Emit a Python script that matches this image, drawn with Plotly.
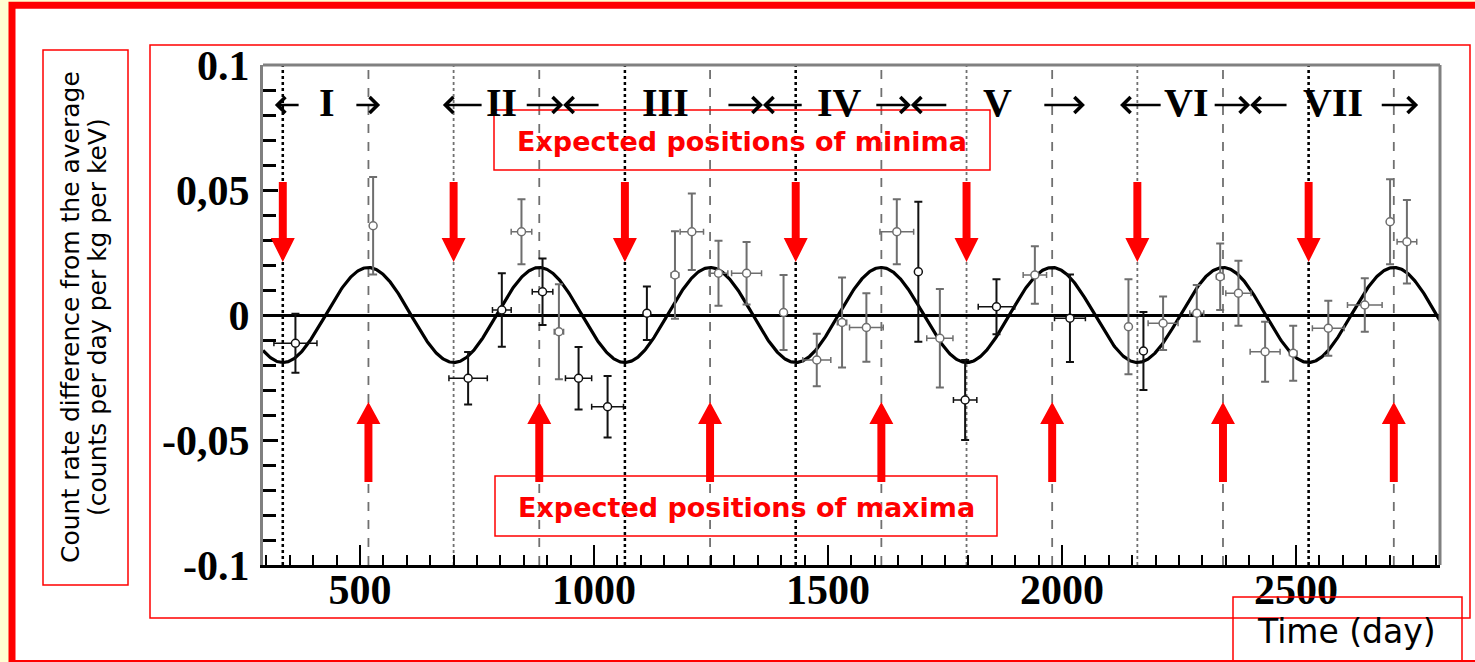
import numpy as np
import plotly.graph_objects as go

# Residual count rate per time bin (day, cpd/kg/keV), grouped by error-bar shade
BLACK_DAYS = [362, 731, 803, 890, 967, 1029, 1113, 1693, 1793, 1860, 2017, 2174]
BLACK_RATE = [-0.0113, -0.0253, 0.0020, 0.0093, -0.0253, -0.0367, 0.0007, 0.0173,
              -0.0340, 0.0033, -0.0013, -0.0144]
BLACK_ERR = [0.0118, 0.0105, 0.0147, 0.0133, 0.0125, 0.0123, 0.0107, 0.0280,
             0.0160, 0.0110, 0.0175, 0.0156]
BLACK_XERR = [46, 41, 20, 22, 28, 34, 5, 5, 25, 39, 33, 5]

GRAY_DAYS = [528, 845, 925, 1173, 1209, 1266, 1326, 1405, 1476, 1530, 1582, 1647, 1739,
             1942, 2142, 2216, 2288, 2338, 2377, 2434, 2494, 2569, 2647, 2701, 2737]
GRAY_RATE = [0.0357, 0.0333, -0.0067, 0.0160, 0.0333, 0.0167, 0.0167, 0.0010, -0.0180,
             -0.0030, -0.0050, 0.0333, -0.0093, 0.0160, -0.0047, -0.0033, 0.0007, 0.0153,
             0.0087, -0.0147, -0.0153, -0.0053, 0.0040, 0.0373, 0.0293]
GRAY_ERR = [0.0195, 0.0130, 0.0190, 0.0175, 0.0153, 0.0130, 0.0125, 0.0150, 0.0105,
            0.0180, 0.0137, 0.0130, 0.0197, 0.0115, 0.0190, 0.0107, 0.0113, 0.0133,
            0.0130, 0.0120, 0.0110, 0.0110, 0.0107, 0.0170, 0.0167]
GRAY_XERR = [5, 22, 10, 8, 25, 20, 32, 5, 30, 10, 36, 36, 28, 25, 5, 32, 15, 8, 27, 32,
             8, 34, 37, 5, 21]

# Annual modulation model: A cos(2*pi/T (t - t0))
AMPLITUDE = 0.019
PERIOD = 365.25
PHASE = 152.5

# Expected extrema of the modulation (day)
MAXIMA_DAYS = [518, 883, 1248, 1614, 1979, 2344, 2709]
MINIMA_DAYS = [335, 700, 1066, 1431, 1796, 2161, 2527]
CYCLE_EDGE_DAYS = [335, 1066, 1431, 2527]

# Annual cycles: numeral positions and the span arrows (tail day, head day)
CYCLE_NAMES = ["I", "II", "III", "IV", "V", "VI", "VII"]
CYCLE_NAME_DAYS = [429, 803, 1152, 1524, 1863, 2265, 2579]
CYCLE_ARROWS = [(372, 318), (489, 543),
                (763, 677), (853, 934), (1013, 934),
                (1284, 1361), (1447, 1361),
                (1600, 1677), (1756, 1677),
                (1959, 2049),
                (2214, 2124), (2323, 2402), (2483, 2402),
                (2680, 2761)]
CYCLE_ROW = 0.0852

X_TICKS = [500, 1000, 1500, 2000, 2500]
X_TICK_TEXT = ["500", "1000", "1500", "2000", "2500"]
Y_TICKS = [-0.1, -0.05, 0, 0.05, 0.1]
Y_TICK_TEXT = ["-0.1", "-0,05", "0", "0,05", "0.1"]

X_RANGE = [292.7, 2807.7]
Y_RANGE = [-0.1, 0.1]

W, H = 1475, 662
ML, MR, MT, MB = 263, 35, 65, 97
PW, PH = W - ML - MR, H - MT - MB


def px(x):
    return (x - ML) / PW


def py(y):
    return (H - MB - y) / PH


RED = "#FF0000"
SERIF = "Liberation Serif, Times New Roman, serif"
SANS = "DejaVu Sans, Verdana, sans-serif"

fig = go.Figure()

# modulation curve
t = np.linspace(X_RANGE[0], X_RANGE[1], 1500)
fig.add_trace(go.Scatter(
    x=t, y=AMPLITUDE * np.cos(2 * np.pi / PERIOD * (t - PHASE)),
    mode="lines", line=dict(color="black", width=3.2), hoverinfo="skip"))

for days, rate, err, xerr, col in [
        (GRAY_DAYS, GRAY_RATE, GRAY_ERR, GRAY_XERR, "#6e6e6e"),
        (BLACK_DAYS, BLACK_RATE, BLACK_ERR, BLACK_XERR, "#111111")]:
    fig.add_trace(go.Scatter(
        x=days, y=rate, mode="markers",
        marker=dict(symbol="circle", size=8, color="white",
                    line=dict(color=col, width=1.5)),
        error_y=dict(type="data", array=err, color=col, thickness=2, width=4),
        error_x=dict(type="data", array=xerr, color=col, thickness=1.5, width=3)))

shapes = []

# vertical markers at expected extrema
for d in MAXIMA_DAYS:
    shapes.append(dict(type="line", xref="x", yref="paper", x0=d, x1=d, y0=0, y1=1,
                       line=dict(color="#707070", width=1.8, dash="dash"), layer="below"))
for d in MINIMA_DAYS:
    shapes.append(dict(type="line", xref="x", yref="paper", x0=d, x1=d, y0=0, y1=1,
                       line=dict(color="#707070", width=1.8, dash="dot"), layer="below"))
for d in CYCLE_EDGE_DAYS:
    shapes.append(dict(type="line", xref="x", yref="paper", x0=d, x1=d, y0=0, y1=1,
                       line=dict(color="black", width=2.5, dash="dot"), layer="below"))

# red arrows: down at minima, up at maxima
SHAFT = 8.5
HEAD = 25.6
for d in MINIMA_DAYS:
    top, base, tip = 0.0532, 0.0308, 0.0212
    shapes.append(dict(type="path", xref="x", yref="y",
                       path=(f"M {d-SHAFT},{top} L {d+SHAFT},{top} L {d+SHAFT},{base} "
                             f"L {d+HEAD},{base} L {d},{tip} L {d-HEAD},{base} "
                             f"L {d-SHAFT},{base} Z"),
                       fillcolor=RED, line=dict(width=0)))
for d in MAXIMA_DAYS:
    bot, base, tip = -0.0668, -0.0436, -0.0348
    shapes.append(dict(type="path", xref="x", yref="y",
                       path=(f"M {d-SHAFT},{bot} L {d+SHAFT},{bot} L {d+SHAFT},{base} "
                             f"L {d+HEAD},{base} L {d},{tip} L {d-HEAD},{base} "
                             f"L {d-SHAFT},{base} Z"),
                       fillcolor=RED, line=dict(width=0)))

# grey frame on top and right
shapes.append(dict(type="line", xref="paper", yref="paper", x0=0, x1=1, y0=1, y1=1,
                   line=dict(color="#808080", width=3)))
shapes.append(dict(type="line", xref="paper", yref="paper", x0=1, x1=1, y0=0, y1=1,
                   line=dict(color="#808080", width=3)))

# slide decoration: yellow strip, thick red border, thin red boxes
shapes.append(dict(type="rect", xref="paper", yref="paper", x0=px(-5), x1=px(9),
                   y0=py(670), y1=py(-5), fillcolor="#FFFFD2", line=dict(width=0)))
shapes.append(dict(type="rect", xref="paper", yref="paper", x0=px(-5), x1=px(1480),
                   y0=py(2), y1=py(-5), fillcolor="#FFFFD2", line=dict(width=0)))
shapes.append(dict(type="rect", xref="paper", yref="paper", x0=px(12), x1=px(1490),
                   y0=py(663.5), y1=py(5.3), line=dict(color=RED, width=7)))
for (x0, y0, x1, y1) in [(43, 50, 128, 585), (150, 45, 1470, 618),
                         (494, 110, 990, 170), (495, 476, 997, 536),
                         (1233, 597, 1462, 666)]:
    shapes.append(dict(type="rect", xref="paper", yref="paper",
                       x0=px(x0), x1=px(x1), y0=py(y1), y1=py(y0),
                       line=dict(color=RED, width=1.5)))

annotations = []
for name, d in zip(CYCLE_NAMES, CYCLE_NAME_DAYS):
    annotations.append(dict(x=d, y=CYCLE_ROW, xref="x", yref="y", text=name,
                            showarrow=False, xanchor="center", yanchor="middle",
                            font=dict(family=SERIF, size=40, color="black", weight="bold")))
for tail, head in CYCLE_ARROWS:
    annotations.append(dict(x=head, y=CYCLE_ROW - 0.0012, ax=tail, ay=CYCLE_ROW - 0.0012,
                            xref="x", yref="y", axref="x", ayref="y", text="",
                            showarrow=True, arrowhead=4, arrowsize=1.2, arrowwidth=2.6,
                            arrowcolor="black", standoff=0, startstandoff=0))


def label(xp, yp, text, font, angle=0):
    annotations.append(dict(x=px(xp), y=py(yp), xref="paper", yref="paper", text=text,
                            showarrow=False, xanchor="center", yanchor="middle",
                            textangle=angle, font=font))


label(742, 141, "Expected positions of minima",
      dict(family=SANS, size=27, color=RED, weight="bold"))
label(746, 507, "Expected positions of maxima",
      dict(family=SANS, size=27, color=RED, weight="bold"))
label(1346, 631, "Time (day)", dict(family=SANS, size=33, color="black"))
label(70, 317, "Count rate difference from the average",
      dict(family=SANS, size=25, color="black"), -90)
label(97, 317, "(counts per day per kg per keV)",
      dict(family=SANS, size=25, color="black"), -90)

fig.update_layout(
    width=W, height=H,
    margin=dict(l=ML, r=MR, t=MT, b=MB),
    paper_bgcolor="white", plot_bgcolor="white",
    showlegend=False,
    shapes=shapes, annotations=annotations,
    xaxis=dict(range=X_RANGE, showgrid=False, zeroline=False,
               showline=True, linecolor="black", linewidth=3,
               tickmode="array", tickvals=X_TICKS, ticktext=X_TICK_TEXT,
               ticks="inside", ticklen=20, tickwidth=2, tickcolor="black",
               ticklabelstandoff=-14,
               tickfont=dict(family=SERIF, size=42, color="black", weight="bold"),
               minor=dict(tickmode="linear", tick0=0, dtick=50, ticks="inside",
                          ticklen=10, tickwidth=2, tickcolor="black")),
    yaxis=dict(range=Y_RANGE, showgrid=False,
               zeroline=True, zerolinecolor="black", zerolinewidth=3,
               showline=True, linecolor="#808080", linewidth=3,
               tickmode="array", tickvals=Y_TICKS, ticktext=Y_TICK_TEXT,
               ticks="inside", ticklen=15, tickwidth=2.5, tickcolor="black",
               ticklabelstandoff=2,
               tickfont=dict(family=SERIF, size=42, color="black", weight="bold"),
               minor=dict(tickmode="linear", tick0=0, dtick=0.01, ticks="inside",
                          ticklen=13, tickwidth=2.5, tickcolor="black")),
)

fig.write_html("out.html")
